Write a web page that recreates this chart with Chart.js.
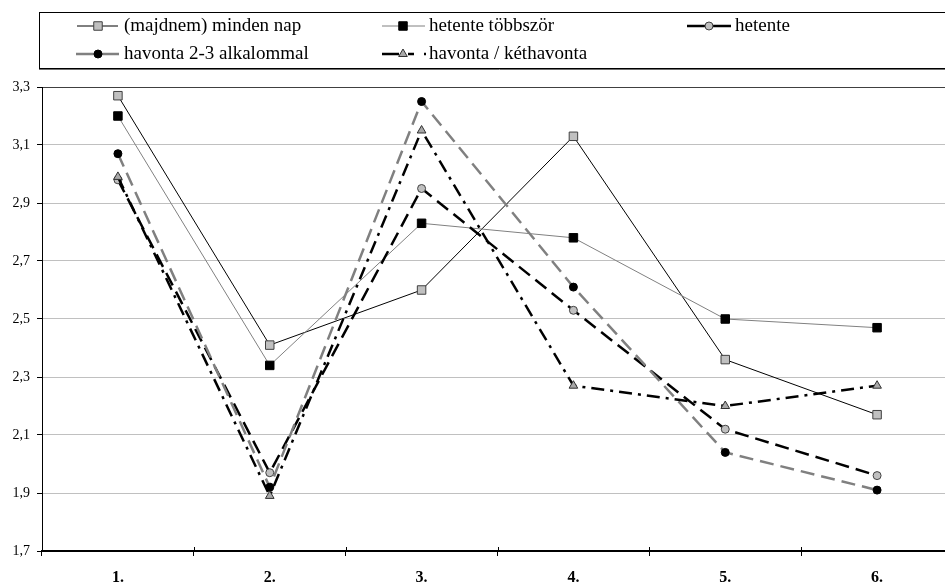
<!DOCTYPE html>
<html>
<head>
<meta charset="utf-8">
<script src="https://cdn.jsdelivr.net/npm/chart.js@4/dist/chart.umd.min.js"></script>
<style>
  html, body { margin: 0; padding: 0; overflow: hidden; background: #fff; }
  canvas { display: block; }
</style>
</head>
<body>
<canvas id="c" width="960" height="582"></canvas>
<script>
// Categories and tick values
const categories = ['1.', '2.', '3.', '4.', '5.', '6.'];
const yTicks = [1.7, 1.9, 2.1, 2.3, 2.5, 2.7, 2.9, 3.1, 3.3];

// Series names
const seriesNames = [
  '(majdnem) minden nap',
  'hetente többször',
  'hetente',
  'havonta 2-3 alkalommal',
  'havonta / kéthavonta'
];

// Series values
const mindenNap         = [3.27, 2.41, 2.60, 3.13, 2.36, 2.17];
const hetenteTobbszor   = [3.20, 2.34, 2.83, 2.78, 2.50, 2.47];
const hetente           = [2.98, 1.97, 2.95, 2.53, 2.12, 1.96];
const havonta23         = [3.07, 1.92, 3.25, 2.61, 2.04, 1.91];
const havontaKethavonta = [2.99, 1.89, 3.15, 2.27, 2.20, 2.27];

const FONT = "'Liberation Serif', 'DejaVu Serif', serif";

const styles = [
  { line: '#000000', width: 1,   dash: [],            legendDash: [],                      marker: 'rect',     fill: '#c0c0c0', stroke: '#404040', r: 6 },
  { line: '#808080', width: 1,   dash: [],            legendDash: [],                      marker: 'rect',     fill: '#000000', stroke: '#000000', r: 6 },
  { line: '#000000', width: 2.5, dash: [14, 7],       legendDash: [],                      marker: 'circle',   fill: '#c0c0c0', stroke: '#404040', r: 4 },
  { line: '#808080', width: 2.5, dash: [14, 7],       legendDash: [],                      marker: 'circle',   fill: '#000000', stroke: '#000000', r: 4 },
  { line: '#000000', width: 2.5, dash: [13, 6, 3, 6], legendDash: [17, 9, 6, 10, 2, 100], marker: 'triangle', fill: '#a8a8a8', stroke: '#303030', r: 5 }
];

const seriesData = [mindenNap, hetenteTobbszor, hetente, havonta23, havontaKethavonta];

const datasets = seriesData.map((d, i) => ({
  label: seriesNames[i],
  data: d,
  borderColor: styles[i].line,
  borderWidth: styles[i].width,
  borderDash: styles[i].dash,
  tension: 0,
  fill: false,
  pointStyle: styles[i].marker,
  pointRadius: styles[i].r,
  pointHoverRadius: styles[i].r,
  pointBackgroundColor: styles[i].fill,
  pointBorderColor: styles[i].stroke,
  pointBorderWidth: 1,
  order: seriesData.length - i
}));

// Simple marker painter for the legend samples
function drawMarker(ctx, style, x, y, r, fill, stroke) {
  ctx.save();
  ctx.setLineDash([]);
  ctx.fillStyle = fill;
  ctx.strokeStyle = stroke;
  ctx.lineWidth = 1;
  ctx.beginPath();
  if (style === 'rect') {
    const s = r * Math.SQRT1_2;
    ctx.rect(x - s, y - s, 2 * s, 2 * s);
  } else if (style === 'circle') {
    ctx.arc(x, y, r, 0, Math.PI * 2);
  } else if (style === 'triangle') {
    ctx.moveTo(x, y - r);
    ctx.lineTo(x + r * 0.866, y + r * 0.5);
    ctx.lineTo(x - r * 0.866, y + r * 0.5);
    ctx.closePath();
  }
  ctx.fill();
  ctx.stroke();
  ctx.restore();
}

// Boxed legend in three columns over the plot
const boxLegend = {
  id: 'boxLegend',
  afterDraw(chart) {
    const ctx = chart.ctx;
    ctx.save();
    // frame
    ctx.strokeStyle = '#000';
    ctx.lineWidth = 1;
    ctx.strokeRect(39.5, 12.5, chart.width, 56);
    ctx.strokeStyle = '#707070';
    ctx.beginPath();
    ctx.moveTo(39, 69.5);
    ctx.lineTo(chart.width, 69.5);
    ctx.stroke();

    const slots = [
      { x0: 77,  mx: 98,  x1: 118, tx: 124, y: 26 },
      { x0: 382, mx: 403, x1: 425, tx: 429, y: 26 },
      { x0: 687, mx: 709, x1: 731, tx: 735, y: 26 },
      { x0: 76,  mx: 98,  x1: 119, tx: 124, y: 54 },
      { x0: 382, mx: 403, x1: 426, tx: 429, y: 54 }
    ];
    chart.data.datasets.forEach((ds, i) => {
      const s = slots[i], st = styles[i];
      ctx.strokeStyle = st.line;
      ctx.lineWidth = st.width;
      ctx.setLineDash(st.legendDash);
      ctx.beginPath();
      ctx.moveTo(s.x0, s.y);
      ctx.lineTo(s.x1, s.y);
      ctx.stroke();
      ctx.setLineDash([]);
      drawMarker(ctx, st.marker, s.mx, s.y, st.r, st.fill, st.stroke);
      ctx.fillStyle = '#000';
      ctx.font = '19px ' + FONT;
      ctx.textBaseline = 'middle';
      ctx.textAlign = 'left';
      ctx.fillText(ds.label, s.tx, s.y);
    });
    ctx.restore();
  }
};

// Category tick marks that cross the bottom axis
const crossTicks = {
  id: 'crossTicks',
  afterDraw(chart) {
    const x = chart.scales.x;
    const ctx = chart.ctx;
    const n = categories.length;
    const step = (x.right - x.left) / n;
    ctx.save();
    ctx.strokeStyle = '#000';
    ctx.lineWidth = 1;
    ctx.beginPath();
    for (let i = 0; i <= n; i++) {
      const px = Math.round(x.left + i * step) + 0.5;
      ctx.moveTo(px, x.top - 4);
      ctx.lineTo(px, x.top);
    }
    ctx.stroke();
    ctx.restore();
  }
};

new Chart(document.getElementById('c'), {
  type: 'line',
  data: { labels: categories, datasets },
  plugins: [boxLegend, crossTicks],
  options: {
    responsive: false,
    animation: false,
    devicePixelRatio: 1,
    layout: { padding: { top: 87, right: 3, bottom: 0, left: 0 } },
    plugins: { legend: { display: false }, tooltip: { enabled: false } },
    scales: {
      x: {
        offset: true,
        afterFit(s) { s.height = 31; },
        grid: {
          offset: true,
          drawOnChartArea: false,
          drawTicks: true,
          tickLength: 5,
          tickColor: '#000',
          color: '#000'
        },
        border: { display: true, color: '#000', width: 2 },
        ticks: {
          padding: 12,
          color: '#000',
          font: { family: FONT, size: 16, weight: 'bold' }
        }
      },
      y: {
        min: 1.7,
        max: 3.3,
        afterFit(s) { s.width = 42; },
        afterBuildTicks(s) { s.ticks = yTicks.map(v => ({ value: v })); },
        grid: {
          color: c => (c.tick && Math.abs(c.tick.value - 3.3) < 1e-6) ? '#404040' : '#c0c0c0',
          lineWidth: 1,
          drawTicks: true,
          tickLength: 5,
          tickColor: '#000'
        },
        border: { display: true, color: '#000', width: 1 },
        ticks: {
          padding: 7,
          color: '#000',
          font: { family: FONT, size: 14 },
          callback: v => Number(v).toFixed(1).replace('.', ',')
        }
      }
    }
  }
});
</script>
</body>
</html>
